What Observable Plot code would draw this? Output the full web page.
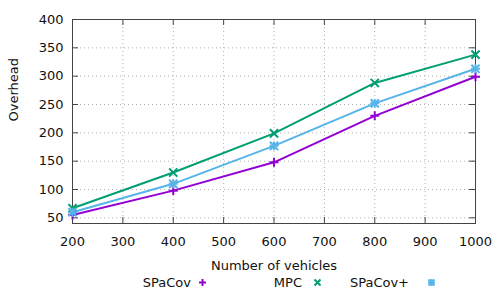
<!DOCTYPE html>
<html>
<head>
<meta charset="utf-8">
<script src="https://cdn.jsdelivr.net/npm/d3@7"></script>
<script src="https://cdn.jsdelivr.net/npm/@observablehq/plot@0.6"></script>
<style>
  html, body { margin: 0; padding: 0; background: white; }
  #wrap { width: 500px; font-family: "DejaVu Sans", sans-serif; font-size: 13px; color: #111; }
  #legend { position: relative; width: 500px; height: 24px; }
  #legend .lab { position: absolute; top: 0; line-height: 14px; text-align: right; white-space: nowrap; }
  #legend svg { position: absolute; top: 2px; }
</style>
</head>
<body>
<div id="wrap"></div>
<script>
const xValues = [200, 400, 600, 800, 1000];
const spacov = [55, 98, 148, 230, 299];
const mpc = [67, 130, 199, 288, 338];
const spacovPlus = [60, 110, 177, 252, 313];
const seriesNames = ["SPaCov", "MPC", "SPaCov+"];
const seriesColors = ["#9400d3", "#009e73", "#56b4e9"];
const xTicks = [200, 300, 400, 500, 600, 700, 800, 900, 1000];
const yTicks = [50, 100, 150, 200, 250, 300, 350, 400];

const rows = [];
[spacov, mpc, spacovPlus].forEach((vals, i) => {
  vals.forEach((v, j) => rows.push({series: seriesNames[i], x: xValues[j], v}));
});
const sel = name => rows.filter(d => d.series === name);

const W = 500, H = 276, ML = 72, MR = 25, MT = 19, MB = 53;
const fw = W - ML - MR, fh = H - MT - MB;
const tick = 6;

const chart = Plot.plot({
  width: W, height: H,
  marginLeft: ML, marginRight: MR, marginTop: MT, marginBottom: MB,
  x: {domain: [200, 1000]},
  y: {domain: [40, 400]},
  color: {domain: seriesNames, range: seriesColors},
  style: {fontFamily: "DejaVu Sans, sans-serif", fontSize: "13px", color: "#111", background: "white"},
  marks: [
    Plot.gridX(xTicks, {stroke: "#b0b0b0", strokeOpacity: 1, strokeDasharray: "1,3"}),
    Plot.gridY(yTicks, {stroke: "#b0b0b0", strokeOpacity: 1, strokeDasharray: "1,3"}),
    Plot.tickX(xTicks, {x: d => d, insetTop: fh - tick, stroke: "#444"}),
    Plot.tickX(xTicks, {x: d => d, insetBottom: fh - tick, stroke: "#444"}),
    Plot.tickY(yTicks, {y: d => d, insetRight: fw - tick, stroke: "#444"}),
    Plot.tickY(yTicks, {y: d => d, insetLeft: fw - tick, stroke: "#444"}),
    Plot.frame({stroke: "#444"}),
    Plot.axisX({ticks: xTicks, tickSize: 0, tickPadding: 13, label: null, fontSize: 13, tickFormat: d3.format("d")}),
    Plot.axisY({ticks: yTicks, tickSize: 0, tickPadding: 9, label: null, fontSize: 13, tickFormat: d3.format("d")}),
    Plot.text(["Number of vehicles"], {frameAnchor: "bottom", dy: 46, text: d => d, fontSize: 13}),
    Plot.text(["Overhead"], {frameAnchor: "left", dx: -59, rotate: -90, text: d => d, fontSize: 13}),
    Plot.line(rows, {x: "x", y: "v", stroke: "series", strokeWidth: 2}),
    Plot.dot(sel("SPaCov"), {x: "x", y: "v", stroke: "series", symbol: "plus", r: 3, strokeWidth: 2}),
    Plot.dot(sel("MPC"), {x: "x", y: "v", stroke: "series", symbol: "times", r: 3.8, strokeWidth: 2}),
    Plot.dot(sel("SPaCov+"), {x: "x", y: "v", stroke: "series", symbol: "plus", r: 3, strokeWidth: 2}),
    Plot.dot(sel("SPaCov+"), {x: "x", y: "v", stroke: "series", symbol: "times", r: 3.8, strokeWidth: 2})
  ]
});

const wrap = document.getElementById("wrap");
wrap.appendChild(chart);

// legend
const legend = document.createElement("div");
legend.id = "legend";
const items = [
  {name: "SPaCov", textRight: 191, mx: 202, shapes: ["plus"]},
  {name: "MPC", textRight: 302, mx: 317, shapes: ["times"]},
  {name: "SPaCov+", textRight: 409, mx: 431, shapes: ["plus", "times"]}
];
items.forEach((it, i) => {
  const lab = document.createElement("span");
  lab.className = "lab";
  lab.style.right = (500 - it.textRight) + "px";
  lab.textContent = it.name;
  legend.appendChild(lab);
  const c = seriesColors[i];
  const paths = it.shapes.map(s => s === "plus"
    ? `<path d="M4.5,1V8M1,4.5H8" stroke="${c}" stroke-width="2" fill="none"/>`
    : `<path d="M1.5,1.5L7.5,7.5M7.5,1.5L1.5,7.5" stroke="${c}" stroke-width="2" fill="none"/>`).join("");
  const sv = document.createElementNS("http://www.w3.org/2000/svg", "svg");
  sv.setAttribute("width", 9); sv.setAttribute("height", 9);
  sv.style.left = (it.mx - 4.5) + "px";
  sv.innerHTML = paths;
  legend.appendChild(sv);
});
wrap.appendChild(legend);
</script>
</body>
</html>
